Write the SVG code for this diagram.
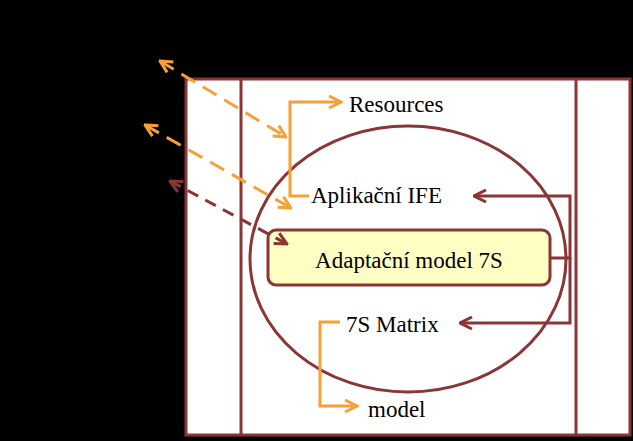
<svg xmlns="http://www.w3.org/2000/svg" width="633" height="441" viewBox="0 0 633 441">
<defs>
<style>
.t{font-family:"Liberation Serif","Times New Roman",serif;font-size:23px;fill:#000}
.r{stroke:#8B3535;stroke-width:3;fill:none}
.o{stroke:#F7A037;stroke-width:3;fill:none}
</style>
<marker id="ao" viewBox="0 0 10 10" refX="9" refY="5" markerWidth="5" markerHeight="5" orient="auto-start-reverse"><path d="M1 1L9 5L1 9" fill="none" stroke="#F7A037" stroke-width="2"/></marker>
<marker id="ar" viewBox="0 0 10 10" refX="9" refY="5" markerWidth="5" markerHeight="5" orient="auto-start-reverse"><path d="M1 1L9 5L1 9" fill="none" stroke="#8B3535" stroke-width="2"/></marker>
</defs>
<rect width="633" height="441" fill="#000"/>
<g id="frame">
<rect x="186" y="79" width="444" height="356" class="r" style="fill:#fff"/>
<line x1="241" y1="79" x2="241" y2="435" class="r"/>
<line x1="576" y1="79" x2="576" y2="435" class="r"/>
<ellipse cx="408" cy="259" rx="158" ry="133" class="r"/>
</g>
<g id="box"><rect x="268" y="230" width="282" height="55" rx="8" class="r" style="fill:#FFFFC4"/><text class="t" x="409" y="268" text-anchor="middle">Adaptační model 7S</text></g>
<g id="resources"><text class="t" x="349" y="112">Resources</text></g>
<g id="ife"><text class="t" x="311" y="203">Aplikační IFE</text></g>
<g id="matrix"><text class="t" x="346" y="332">7S Matrix</text></g>
<g id="model"><text class="t" x="368" y="417">model</text></g>
<g id="connectors">
<path d="M550 258H570V196H474" class="r" marker-end="url(#ar)"/>
<path d="M570 258V323H460" class="r" marker-end="url(#ar)"/>
<path d="M309 196H290V102H341" class="o" marker-end="url(#ao)"/>
<path d="M340 322H320V406H357" class="o" marker-end="url(#ao)"/>
<path d="M160 61L286 137" class="o" stroke-dasharray="16,9" marker-start="url(#ao)" marker-end="url(#ao)"/>
<path d="M145 125L291 208" class="o" stroke-dasharray="16,9" marker-start="url(#ao)" marker-end="url(#ao)"/>
<path d="M170 181L287 244" class="r" stroke-dasharray="12,8" marker-start="url(#ar)" marker-end="url(#ar)"/>
</g>
</svg>
